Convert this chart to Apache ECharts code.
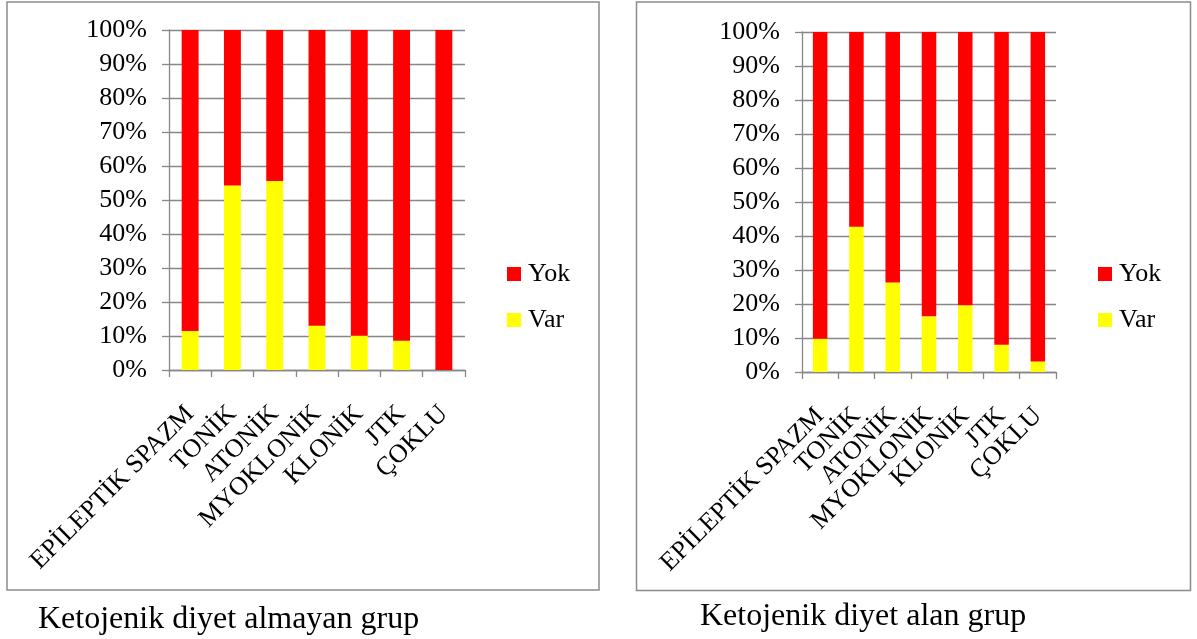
<!DOCTYPE html>
<html>
<head>
<meta charset="utf-8">
<script src="https://cdn.jsdelivr.net/npm/echarts@6/dist/echarts.min.js"></script>
<style>
html,body{margin:0;padding:0;background:#fff;}
#c{width:1197px;height:639px;}
</style>
</head>
<body>
<div id="c"></div>
<script>
// Data
const categories = ['EPİLEPTİK SPAZM', 'TONİK', 'ATONİK', 'MYOKLONİK', 'KLONİK', 'JTK', 'ÇOKLU'];
const yTicks = [0, 10, 20, 30, 40, 50, 60, 70, 80, 90, 100];
// Group 1: Ketojenik diyet almayan grup (percent)
const varAlmayan = [11.5, 54.3, 55.6, 13.0, 10.1, 8.6, 0];
const yokAlmayan = [88.5, 45.7, 44.4, 87.0, 89.9, 91.4, 100];
// Group 2: Ketojenik diyet alan grup (percent)
const varAlan = [9.8, 42.7, 26.3, 16.4, 19.6, 8.0, 3.1];
const yokAlan = [90.2, 57.3, 73.7, 83.6, 80.4, 92.0, 96.9];
const captions = ['Ketojenik diyet almayan grup', 'Ketojenik diyet alan grup'];

const FONT = '"Liberation Serif", "Times New Roman", serif';
const GREY = '#878787';
const RED = '#FF0000';
const YELLOW = '#FFFF00';

function xAxis(gi) {
  return {
    type: 'category', gridIndex: gi, data: categories,
    axisLine: {show: true, lineStyle: {color: GREY, width: 1.3}},
    axisTick: {show: true, length: 7, lineStyle: {color: GREY, width: 1.3}},
    axisLabel: {rotate: 45, interval: 0, margin: 40, color: '#000', fontFamily: FONT, fontSize: 26},
    splitLine: {show: false}
  };
}
function yAxis(gi) {
  return {
    type: 'value', gridIndex: gi, min: yTicks[0], max: yTicks[yTicks.length - 1], interval: 10,
    axisLine: {show: true, lineStyle: {color: GREY, width: 1.3}},
    axisTick: {show: true, length: 7, lineStyle: {color: GREY, width: 1.3}},
    axisLabel: {formatter: '{value}%', margin: 22, color: '#000', fontFamily: FONT, fontSize: 26},
    splitLine: {show: true, lineStyle: {color: GREY, width: 1.3}}
  };
}
function bar(name, data, gi, color) {
  return {
    name: name, type: 'bar', stack: 's' + gi, xAxisIndex: gi, yAxisIndex: gi,
    data: data, barWidth: '40%', itemStyle: {color: color},
    emphasis: {disabled: true}, animation: false
  };
}
function legend(left, top) {
  return {
    data: ['Yok', 'Var'], orient: 'vertical', left: left, top: top, padding: 0,
    icon: 'rect', itemWidth: 14, itemHeight: 14, itemGap: 20,
    textStyle: {fontFamily: FONT, fontSize: 26, color: '#000', padding: [0, 0, 0, 2]},
    selectedMode: false
  };
}

const chart = echarts.init(document.getElementById('c'), null, {renderer: 'canvas'});
chart.setOption({
  animation: false,
  backgroundColor: '#fff',
  grid: [
    {left: 169, top: 30, width: 296, height: 340, containLabel: false},
    {left: 802, top: 32, width: 254, height: 340, containLabel: false}
  ],
  xAxis: [xAxis(0), xAxis(1)],
  yAxis: [yAxis(0), yAxis(1)],
  legend: [legend(507, 261), legend(1098, 261)],
  series: [
    bar('Var', varAlmayan, 0, YELLOW),
    bar('Yok', yokAlmayan, 0, RED),
    bar('Var', varAlan, 1, YELLOW),
    bar('Yok', yokAlan, 1, RED)
  ],
  graphic: [
    {type: 'rect', shape: {x: 7, y: 2, width: 592, height: 588}, style: {fill: 'none', stroke: '#8c8c8c', lineWidth: 1.5}, silent: true},
    {type: 'rect', shape: {x: 636.5, y: 2, width: 554, height: 588.5}, style: {fill: 'none', stroke: '#8c8c8c', lineWidth: 1.5}, silent: true},
    {type: 'text', left: 38, top: 604, style: {text: captions[0], font: '32px ' + FONT, fill: '#000'}, silent: true},
    {type: 'text', left: 700, top: 601, style: {text: captions[1], font: '32px ' + FONT, fill: '#000'}, silent: true}
  ]
});
</script>
</body>
</html>
